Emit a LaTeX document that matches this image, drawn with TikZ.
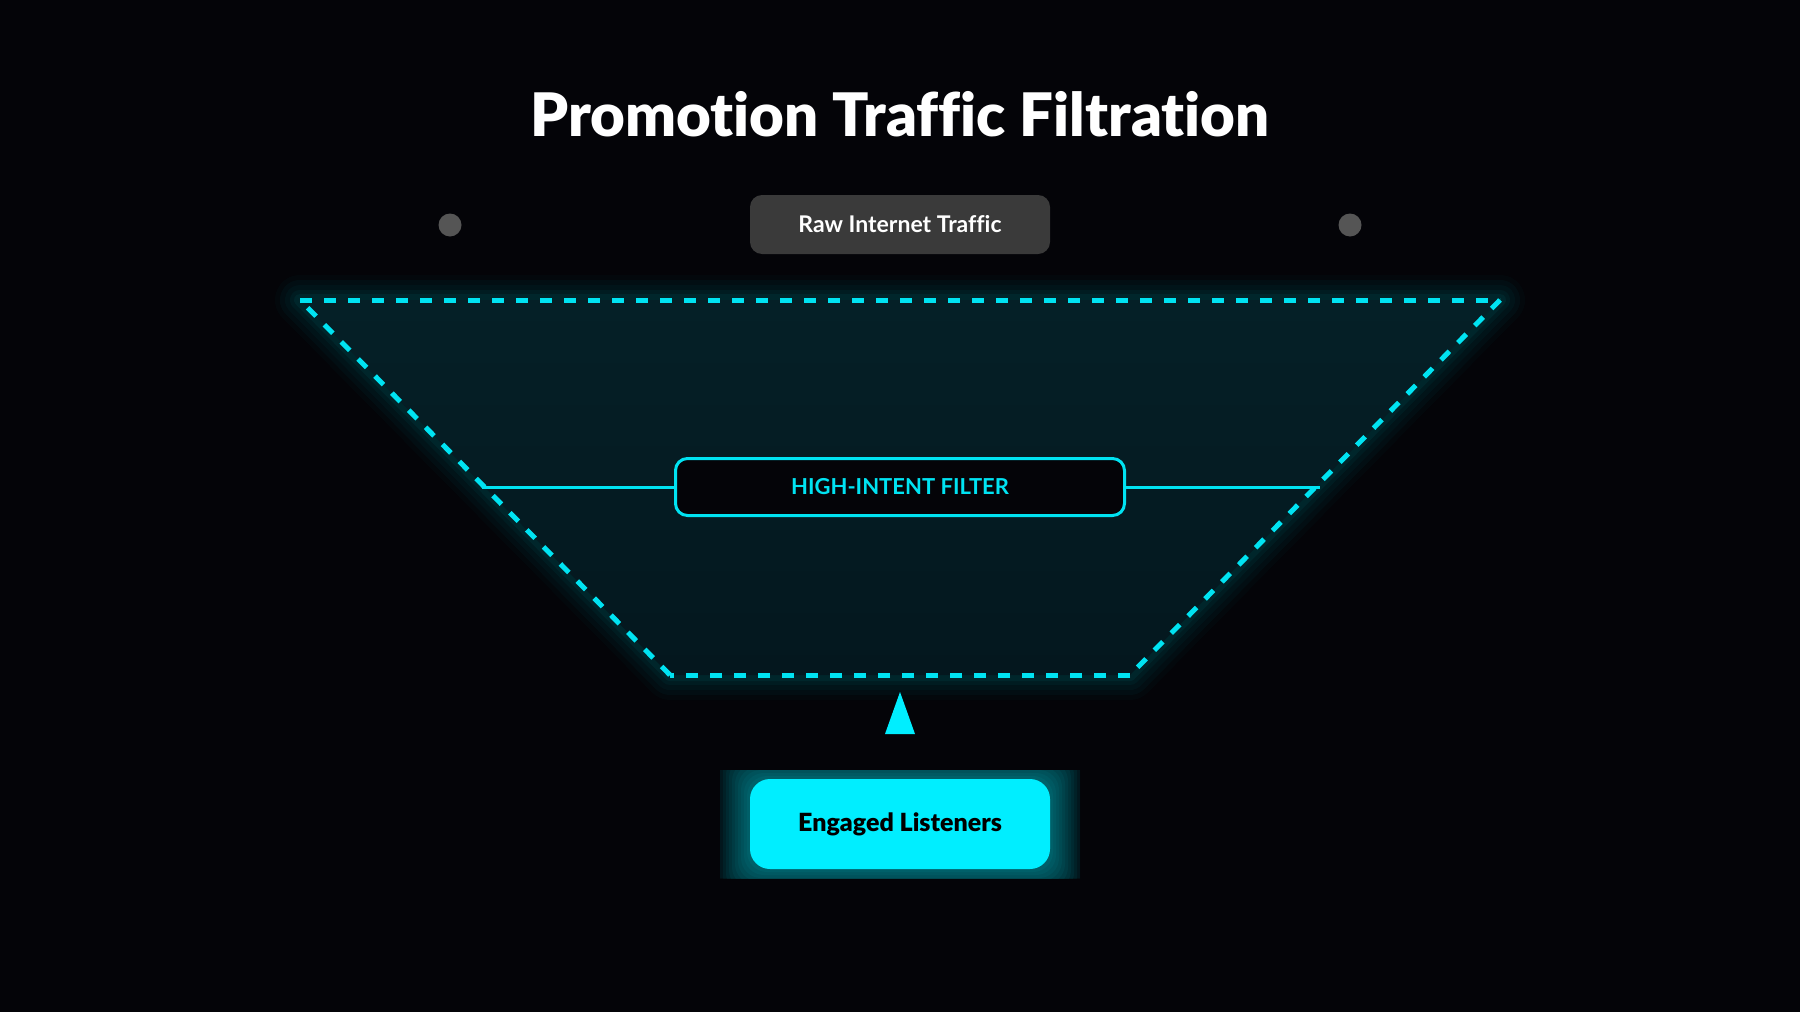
\documentclass[tikz,border=0pt]{standalone}
\usepackage{fontspec}
\setmainfont{Lato}[Ligatures=NoCommon]
\newfontfamily\titlefont{Lato Black}[Ligatures=NoCommon]
\usetikzlibrary{shapes.geometric}
\definecolor{bg}{HTML}{040408}
\definecolor{neon}{HTML}{00E3F2}
\definecolor{neonfill}{HTML}{00EEFF}
\definecolor{boxgray}{HTML}{3A3A3A}
\definecolor{dotgray}{HTML}{555555}
\definecolor{tealtop}{HTML}{052027}
\definecolor{tealbot}{HTML}{04171E}
\tikzset{
  smalltext/.style={font=\fontsize{23}{26}\selectfont\bfseries},
  rawbox/.style={rectangle, rounded corners=12pt, fill=boxgray, text=white,
    minimum width=300pt, minimum height=59pt, inner sep=0pt, smalltext},
  filterbox/.style={rectangle, rounded corners=12pt, draw=neon, line width=3pt,
    fill=bg, text=neon, minimum width=449pt, minimum height=57pt, inner sep=0pt,
    font=\fontsize{22}{26}\selectfont\bfseries},
  engbox/.style={rectangle, rounded corners=20pt, fill=neonfill, text=black,
    minimum width=300pt, minimum height=90pt, inner sep=0pt,
    font=\fontsize{25}{28}\selectfont\titlefont},
  graydot/.style={circle, fill=dotgray, minimum size=23pt, inner sep=0pt},
  funnelline/.style={draw=neon, line width=5pt, dash pattern=on 12pt off 12pt},
  linkline/.style={draw=neon, line width=3pt},
}
\begin{document}
\begin{tikzpicture}[x=1pt,y=-1pt]
\fill[bg] (0,0) rectangle (1800,1012);
\useasboundingbox (0,0) rectangle (1800,1012);

% title
\node[text=white, font=\fontsize{60}{64}\selectfont\titlefont] (title) at (900,114) {Promotion Traffic Filtration};

% top row
\node[graydot] (dotL) at (450,225) {};
\node[graydot] (dotR) at (1350,225) {};
\node[rawbox] (raw) at (900,224.5) {Raw Internet Traffic};

% funnel
\coordinate (tl) at (300,300);
\coordinate (tr) at (1500,300);
\coordinate (br) at (1130,675);
\coordinate (bl) at (670,675);
\foreach \w/\o in {50/0.02, 40/0.03, 30/0.03, 20/0.04, 12/0.05} {
  \draw[neon, line width=\w pt, opacity=\o, line join=round] (tl) -- (tr) -- (br) -- (bl) -- cycle;
}
\shade[top color=tealtop, bottom color=tealbot] (tl) -- (tr) -- (br) -- (bl) -- cycle;
\draw[funnelline] (tl) -- (tr);
\draw[funnelline] (tr) -- (br);
\draw[funnelline] (br) -- (bl);
\draw[funnelline] (bl) -- (tl);

% filter
\node[filterbox] (filter) at (900,487) {HIGH-INTENT FILTER};
\coordinate (fl) at (482,487);
\coordinate (fr) at (1320,487);
\draw[linkline] (fl) -- (filter.west);
\draw[linkline] (filter.east) -- (fr);

% arrow triangle
\coordinate (apex) at (900,692);
\coordinate (baseL) at (885,734);
\coordinate (baseR) at (915,734);
\fill[neonfill] (apex) -- (baseR) -- (baseL) -- cycle;

% engaged glow
\begin{scope}
  \clip (720,770) rectangle (1080,878);
  \fill[bg!85!neon, opacity=0.3] (720,770) rectangle (1080,878);
  \foreach \d in {30,27,...,3} {
    \fill[neon, opacity=0.05, rounded corners=20pt] (750-\d,779-\d) rectangle (1050+\d,869+\d);
  }
\end{scope}
\node[engbox] (eng) at (900,824) {Engaged Listeners};
\end{tikzpicture}
\end{document}
